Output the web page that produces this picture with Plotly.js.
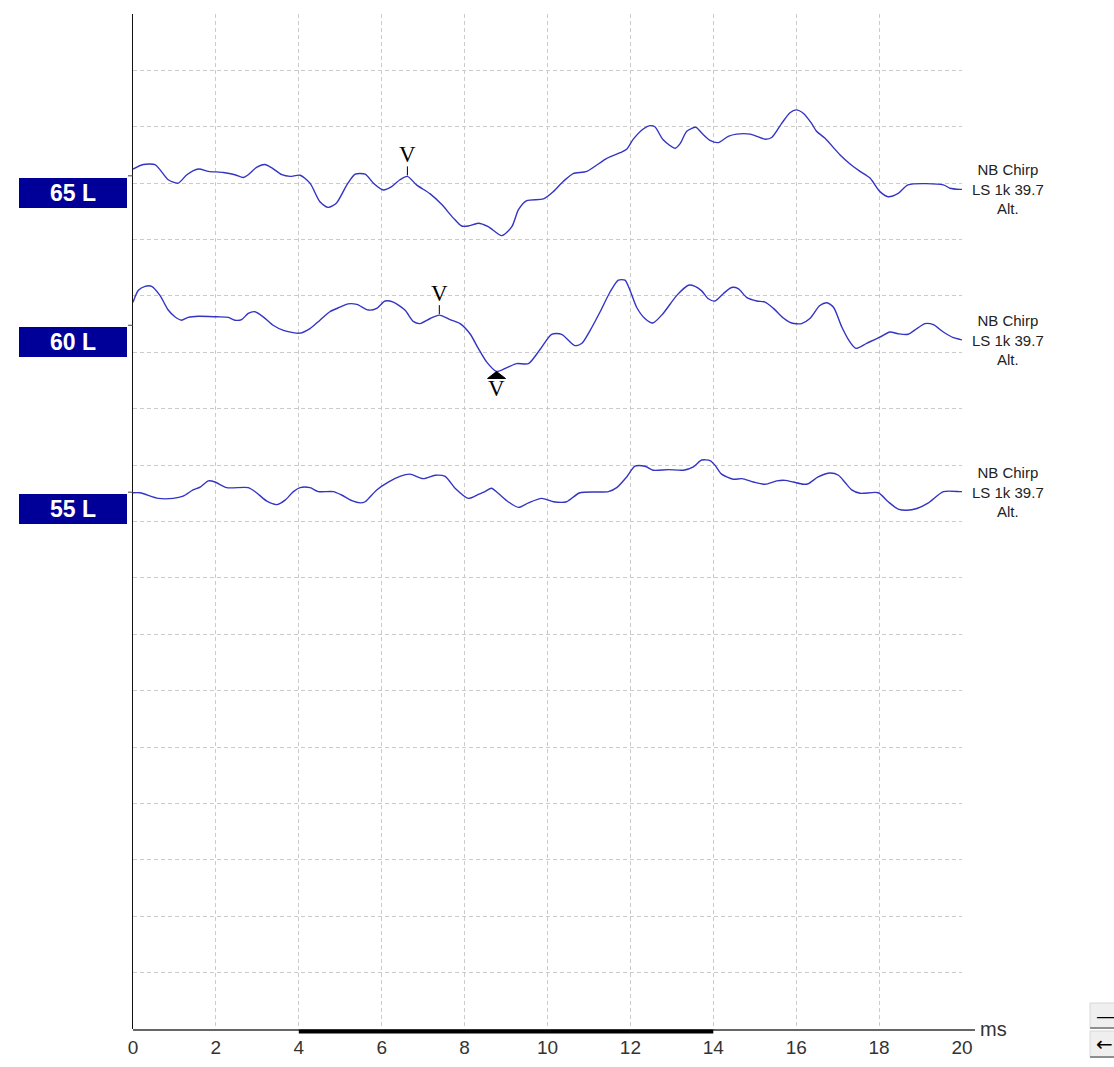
<!DOCTYPE html>
<html>
<head>
<meta charset="utf-8">
<script src="https://cdn.plot.ly/plotly-3.0.1.min.js"></script>
<style>
  html, body { margin: 0; padding: 0; background: #ffffff; }
  #chart { width: 1114px; height: 1067px; }
</style>
</head>
<body>
<div id="chart"></div>
<script>
// ABR recordings, left ear, NB Chirp 1 kHz, alternating polarity.
// Time in ms, amplitude in grid divisions relative to each recording's baseline.

const levelLabels = ['65 L', '60 L', '55 L'];
const stimulusLines = ['NB Chirp', 'LS 1k 39.7', 'Alt.'];
const xTickValues = [0, 2, 4, 6, 8, 10, 12, 14, 16, 18, 20];

const time65 = [0.00,0.25,0.53,0.65,0.85,1.09,1.30,1.58,1.82,2.18,2.46,2.66,2.78,2.98,3.18,3.35,3.59,3.79,4.03,4.27,4.51,4.71,4.91,5.16,5.36,5.60,5.80,6.04,6.24,6.44,6.62,6.84,7.17,7.45,7.73,7.93,8.09,8.33,8.57,8.90,9.14,9.30,9.50,9.90,10.14,10.38,10.62,10.95,11.43,11.75,11.91,12.07,12.31,12.47,12.59,12.79,13.08,13.20,13.36,13.58,13.72,13.92,14.12,14.36,14.56,14.89,15.05,15.25,15.41,15.65,15.85,16.00,16.17,16.37,16.49,16.69,17.06,17.30,17.54,17.78,18.02,18.22,18.46,18.70,19.55,19.71,19.95,20.00];
const amp65 = [0.12,0.20,0.20,0.11,-0.07,-0.13,0.02,0.12,0.08,0.06,0.02,-0.03,0.02,0.15,0.20,0.14,0.02,-0.01,0.01,-0.13,-0.46,-0.56,-0.48,-0.16,0.03,0.03,-0.13,-0.25,-0.19,-0.07,-0.01,-0.16,-0.32,-0.51,-0.75,-0.89,-0.89,-0.84,-0.90,-1.06,-0.90,-0.60,-0.44,-0.41,-0.28,-0.10,0.04,0.08,0.31,0.41,0.47,0.65,0.83,0.89,0.87,0.64,0.49,0.57,0.79,0.86,0.76,0.63,0.59,0.70,0.74,0.74,0.70,0.65,0.68,0.93,1.12,1.17,1.11,0.93,0.79,0.67,0.37,0.21,0.08,-0.04,-0.28,-0.37,-0.31,-0.16,-0.16,-0.22,-0.24,-0.24];

const time60 = [0.00,0.13,0.29,0.45,0.65,0.85,1.01,1.17,1.33,1.58,2.02,2.30,2.46,2.62,2.78,2.94,3.14,3.38,3.63,4.03,4.27,4.51,4.75,4.99,5.19,5.40,5.68,5.88,6.08,6.28,6.56,6.76,6.92,7.17,7.39,7.65,7.89,8.13,8.33,8.53,8.77,9.02,9.26,9.54,9.82,10.10,10.34,10.66,10.83,11.03,11.27,11.51,11.71,11.87,11.99,12.15,12.35,12.54,12.79,13.12,13.40,13.56,13.72,13.88,14.04,14.24,14.44,14.60,14.81,15.05,15.25,15.45,15.69,15.89,16.13,16.33,16.57,16.74,16.90,17.10,17.30,17.44,17.70,18.02,18.26,18.46,18.70,18.91,19.11,19.31,19.55,19.79,19.95,20.00];
const amp60 = [0.41,0.62,0.69,0.69,0.53,0.27,0.15,0.09,0.14,0.16,0.15,0.14,0.09,0.10,0.21,0.24,0.15,0.00,-0.09,-0.14,-0.06,0.09,0.24,0.32,0.38,0.37,0.27,0.30,0.43,0.41,0.27,0.07,0.03,0.12,0.18,0.10,0.03,-0.15,-0.41,-0.65,-0.82,-0.75,-0.68,-0.68,-0.43,-0.16,-0.16,-0.36,-0.32,-0.09,0.24,0.59,0.80,0.80,0.62,0.32,0.12,0.04,0.21,0.53,0.71,0.69,0.61,0.47,0.43,0.56,0.67,0.65,0.49,0.43,0.41,0.30,0.13,0.04,0.03,0.12,0.35,0.40,0.32,-0.03,-0.30,-0.41,-0.32,-0.21,-0.12,-0.15,-0.16,-0.06,0.03,0.01,-0.12,-0.22,-0.25,-0.26];

const time55 = [0.00,0.17,0.61,0.97,1.21,1.45,1.62,1.82,1.98,2.26,2.78,2.98,3.23,3.47,3.67,3.87,4.03,4.27,4.47,4.83,5.03,5.28,5.48,5.60,5.88,6.16,6.44,6.68,7.00,7.29,7.53,7.77,8.09,8.33,8.49,8.65,8.81,9.05,9.30,9.54,9.86,10.14,10.46,10.78,11.47,11.67,11.91,12.11,12.35,12.55,12.91,13.28,13.52,13.72,13.92,14.04,14.20,14.48,14.69,14.97,15.25,15.53,15.73,15.93,16.17,16.29,16.53,16.82,17.02,17.18,17.34,17.54,17.98,18.22,18.46,18.67,18.91,19.19,19.55,19.95,20.00];
const amp55 = [-0.01,-0.01,-0.11,-0.11,-0.07,0.04,0.09,0.20,0.18,0.08,0.08,-0.01,-0.16,-0.22,-0.14,0.01,0.08,0.08,0.01,0.01,-0.05,-0.15,-0.19,-0.17,0.04,0.18,0.28,0.32,0.24,0.30,0.28,0.07,-0.11,-0.04,0.01,0.07,-0.02,-0.17,-0.27,-0.19,-0.11,-0.17,-0.17,-0.01,0.01,0.08,0.27,0.46,0.46,0.39,0.40,0.39,0.45,0.57,0.56,0.48,0.32,0.23,0.24,0.18,0.14,0.20,0.21,0.18,0.14,0.15,0.27,0.34,0.30,0.17,0.04,-0.02,-0.01,-0.17,-0.30,-0.32,-0.29,-0.19,0.01,0.01,0.01];

// wave V marks: recording index, latency (ms), peak or trough
const markRecording = [0, 1, 1];
const markLatency = [6.62, 7.39, 8.77];
const markKind = ['peak', 'peak', 'trough'];

// vertical offset of each recording on the display (grid divisions)
const baselineOffsets = [15.13, 12.48, 9.52];
// analysis window shown as a bar on the time axis (ms)
const analysisWindow = [4, 14];

const recTimes = [time65, time60, time55];
const recAmps = [amp65, amp60, amp55];

const traceColor = '#3434c4';
const gridStyle = { showgrid: true, gridcolor: '#cbcbcb', gridwidth: 1, griddash: '4px,3px' };

// layout geometry (px)
const W = 1114, H = 1067;
const M = { l: 133, r: 152, t: 14, b: 38 };
const plotW = W - M.l - M.r;
const plotH = H - M.t - M.b;
const px2paperX = p => (p - M.l) / plotW;
const px2paperY = p => (H - M.b - p) / plotH;

const data = recTimes.map((t, i) => ({
  type: 'scatter',
  mode: 'lines',
  x: t,
  y: recAmps[i].map(a => a + baselineOffsets[i]),
  line: { color: traceColor, width: 1.4, shape: 'spline', smoothing: 0.7 },
  hoverinfo: 'skip',
  showlegend: false
}));

const shapes = [];
const annotations = [];

// time axis line (runs a little past the last grid line, up to the unit label)
shapes.push({
  type: 'line', xref: 'paper', yref: 'paper',
  x0: 0, x1: px2paperX(975), y0: -0.001, y1: -0.001,
  line: { color: '#333333', width: 1.3 }
});
// analysis window bar
shapes.push({
  type: 'line', xref: 'x', yref: 'paper',
  x0: analysisWindow[0], x1: analysisWindow[1], y0: -0.0025, y1: -0.0025,
  line: { color: '#000000', width: 4 }
});

levelLabels.forEach((lab, i) => {
  const base = baselineOffsets[i];
  // baseline tick left of the axis
  shapes.push({
    type: 'line', xref: 'paper', yref: 'y',
    x0: px2paperX(128), x1: 0, y0: base, y1: base,
    line: { color: '#444444', width: 1 }
  });
  // level label box
  annotations.push({
    xref: 'paper', yref: 'y', x: px2paperX(127), y: base,
    xanchor: 'right', yanchor: 'top', yshift: -2,
    text: '<b>' + lab + '</b>', showarrow: false,
    font: { family: 'Liberation Sans, Arial, sans-serif', size: 23, color: '#ffffff' },
    bgcolor: '#000099', width: 108, height: 30, borderpad: 0, borderwidth: 0,
    align: 'center', valign: 'middle'
  });
  // stimulus description at the end of each recording
  const amps = recAmps[i];
  annotations.push({
    xref: 'paper', yref: 'y', x: px2paperX(1008), y: base + amps[amps.length - 1],
    xanchor: 'center', yanchor: 'middle',
    text: stimulusLines.join('<br>'), showarrow: false,
    font: { family: 'Liberation Sans, Arial, sans-serif', size: 15, color: '#222222' },
    align: 'center'
  });
});

// wave V marks
markLatency.forEach((lat, k) => {
  const r = markRecording[k];
  const idx = recTimes[r].indexOf(lat);
  const yv = recAmps[r][idx] + baselineOffsets[r];
  if (markKind[k] === 'peak') {
    shapes.push({
      type: 'line', xref: 'x', yref: 'y', ysizemode: 'pixel', yanchor: yv,
      x0: lat, x1: lat, y0: 1, y1: 10,
      line: { color: '#000000', width: 1 }
    });
    annotations.push({
      xref: 'x', yref: 'y', x: lat, y: yv, yshift: 22,
      xanchor: 'center', yanchor: 'middle', text: 'V', showarrow: false,
      font: { family: 'Liberation Serif, Times New Roman, serif', size: 23, color: '#000000' }
    });
  } else {
    shapes.push({
      type: 'path', xref: 'x', yref: 'y',
      xsizemode: 'pixel', ysizemode: 'pixel', xanchor: lat, yanchor: yv,
      path: 'M0,0 L-9,-7 L9,-7 Z',
      fillcolor: '#000000', line: { color: '#000000', width: 1 }
    });
    annotations.push({
      xref: 'x', yref: 'y', x: lat, y: yv, yshift: -17,
      xanchor: 'center', yanchor: 'middle', text: 'V', showarrow: false,
      font: { family: 'Liberation Serif, Times New Roman, serif', size: 23, color: '#000000' }
    });
  }
});

// time unit
annotations.push({
  xref: 'paper', yref: 'paper', x: px2paperX(993), y: px2paperY(1029),
  xanchor: 'center', yanchor: 'middle', text: 'ms', showarrow: false,
  font: { family: 'Liberation Sans, Arial, sans-serif', size: 20, color: '#333333' }
});

// zoom / back buttons at the lower right edge
[[1003, 1028, '\u2014'], [1031, 1057, '\u2190']].forEach(([top, bottom, glyph]) => {
  shapes.push({
    type: 'rect', xref: 'paper', yref: 'paper',
    x0: px2paperX(1090), x1: px2paperX(1120), y0: px2paperY(bottom), y1: px2paperY(top),
    fillcolor: '#efefef', line: { color: '#d8d8d8', width: 1 }
  });
  shapes.push({
    type: 'line', xref: 'paper', yref: 'paper',
    x0: px2paperX(1090), x1: px2paperX(1120), y0: px2paperY(bottom), y1: px2paperY(bottom),
    line: { color: '#8f8f8f', width: 2 }
  });
  annotations.push({
    xref: 'paper', yref: 'paper', x: px2paperX(1094), y: px2paperY((top + bottom) / 2),
    xanchor: 'left', yanchor: 'middle', text: glyph, showarrow: false,
    font: { family: 'DejaVu Sans, sans-serif', size: 20, color: '#000000' }
  });
});

const layout = {
  width: W, height: H,
  margin: M,
  paper_bgcolor: '#ffffff', plot_bgcolor: '#ffffff',
  showlegend: false,
  xaxis: Object.assign({
    range: [0, 20], tickvals: xTickValues, ticks: '', ticklabelstandoff: 5,
    zeroline: false, showline: false, fixedrange: true,
    tickfont: { family: 'Liberation Sans, Arial, sans-serif', size: 19, color: '#333333' }
  }, gridStyle),
  yaxis: Object.assign({
    range: [0, 18], tick0: 0, dtick: 1, ticks: '', showticklabels: false,
    zeroline: false, showline: true, linecolor: '#111111', linewidth: 1.5, fixedrange: true
  }, gridStyle),
  shapes: shapes,
  annotations: annotations
};

Plotly.newPlot('chart', data, layout, { displayModeBar: false, staticPlot: true });
</script>
</body>
</html>
